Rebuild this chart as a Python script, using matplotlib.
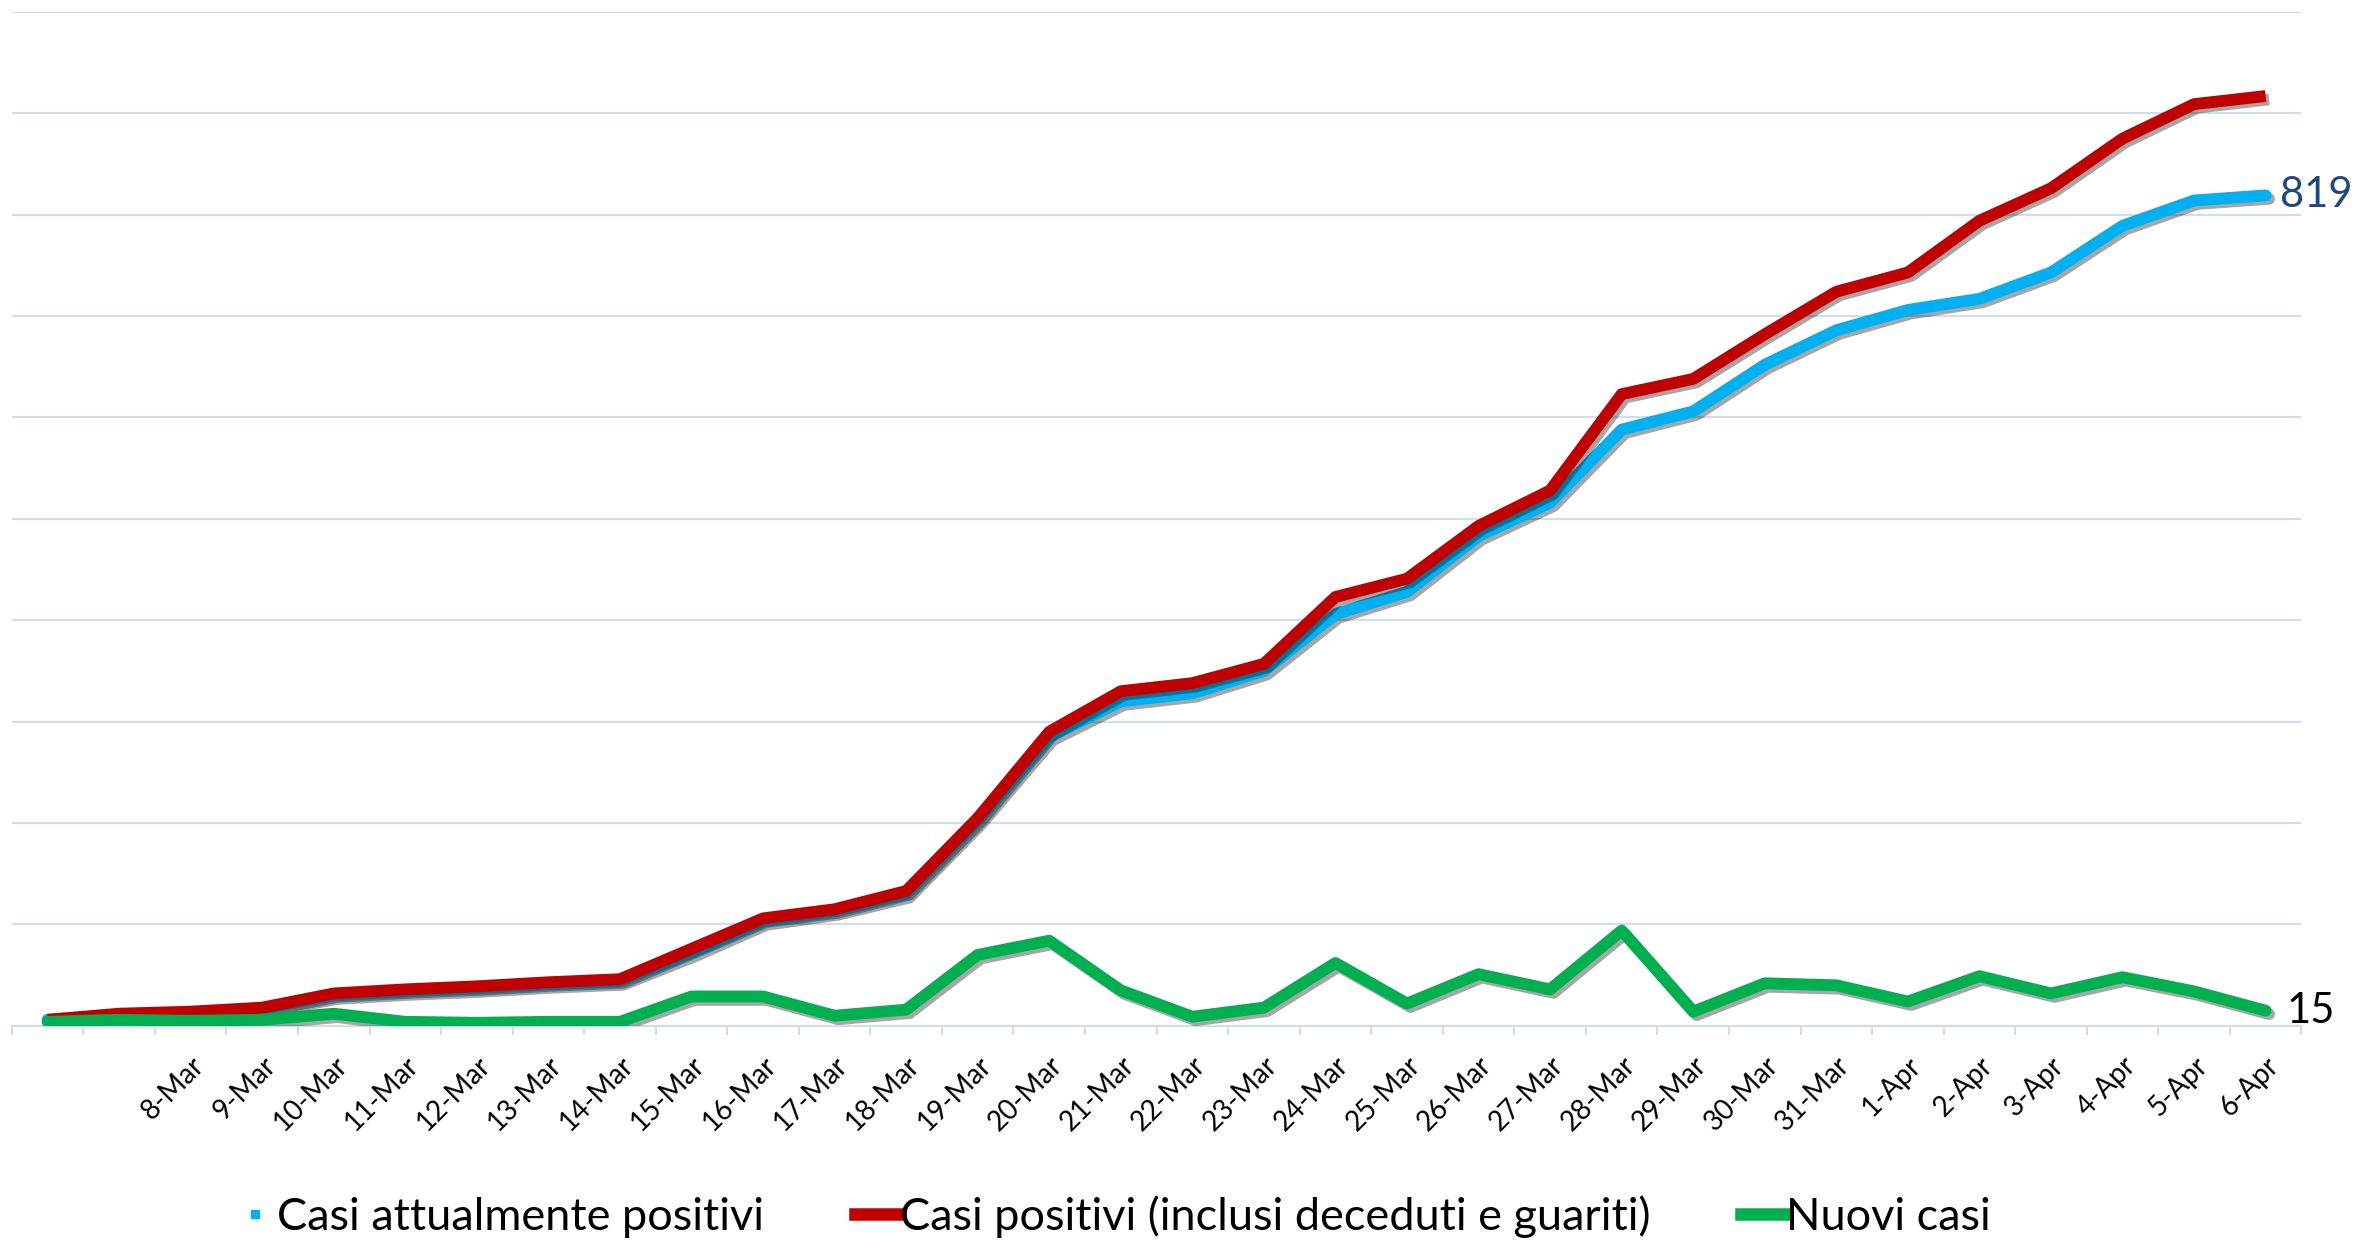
import numpy as np
import matplotlib
matplotlib.use('Agg')
import matplotlib.pyplot as plt
import matplotlib.patheffects as pe
from matplotlib.lines import Line2D
from matplotlib.ticker import MultipleLocator

plt.rcParams['font.family'] = ['Lato', 'DejaVu Sans']

# first two days have no label in the original chart
dates = ['', '', '8-Mar', '9-Mar', '10-Mar', '11-Mar', '12-Mar', '13-Mar', '14-Mar',
         '15-Mar', '16-Mar', '17-Mar', '18-Mar', '19-Mar', '20-Mar', '21-Mar',
         '22-Mar', '23-Mar', '24-Mar', '25-Mar', '26-Mar', '27-Mar', '28-Mar',
         '29-Mar', '30-Mar', '31-Mar', '1-Apr', '2-Apr', '3-Apr', '4-Apr',
         '5-Apr', '6-Apr']

attualmente_positivi = [6, 11, 13, 17, 30, 34, 37, 41, 44, 72, 103, 113, 130, 202, 285, 320,
                        328, 350, 406, 428, 483, 516, 588, 606, 652, 686, 706, 717, 743,
                        789, 814, 819]
positivi_totali = [6, 12, 14, 18, 32, 36, 39, 43, 46, 76, 106, 115, 133, 205, 290, 330,
                   338, 357, 423, 441, 493, 528, 623, 638, 682, 724, 743, 794, 826,
                   875, 909, 917]
nuovi_casi = [4, 6, 5, 6, 12, 4, 3, 4, 4, 29, 29, 10, 16, 70, 84, 35,
              9, 18, 62, 22, 51, 36, 94, 14, 42, 40, 24, 49, 32, 48, 34, 15]

legend_labels = ['Casi attualmente positivi',
                 'Casi positivi (inclusi deceduti e guariti)',
                 'Nuovi casi']

blue = '#00B0F0'
red = '#C00000'
green = '#00B050'
grid_col = '#D0DCEF'

x = np.arange(len(dates))

fig = plt.figure(figsize=(23.58, 12.48), dpi=100)
ax = fig.add_axes([0.005, 0.178, 0.971, 0.8125])

shadow = [pe.SimpleLineShadow(offset=(2.5, -2.5), shadow_color='black', alpha=0.35),
          pe.Normal()]

ax.plot(x, attualmente_positivi, color=blue, lw=8.5, solid_capstyle='round',
        path_effects=shadow, zorder=3)
ax.plot(x, positivi_totali, color=red, lw=8.5, solid_capstyle='butt',
        path_effects=shadow, zorder=4)
ax.plot(x, nuovi_casi, color=green, lw=8.5, solid_capstyle='round',
        path_effects=shadow, zorder=5)

ax.set_xlim(-0.5, len(dates) - 0.5)
ax.set_ylim(0, 1000)
ax.yaxis.set_major_locator(MultipleLocator(100))
ax.grid(axis='y', color=grid_col, lw=1.5)
ax.set_axisbelow(True)
ax.tick_params(axis='y', left=False, labelleft=False)
for s in ['left', 'right', 'top']:
    ax.spines[s].set_visible(False)
ax.spines['bottom'].set_color(grid_col)
ax.spines['bottom'].set_linewidth(1.5)

ax.set_xticks(x)
ax.set_xticklabels(dates, rotation=45, ha='right', va='top',
                   rotation_mode='anchor', fontsize=20)
ax.tick_params(axis='x', which='major', length=0, pad=19)
ax.set_xticks(np.arange(-0.5, len(dates)), minor=True)
ax.tick_params(axis='x', which='minor', length=6.5, width=1.5, color=grid_col)

# end-of-line value labels
ax.annotate(str(attualmente_positivi[-1]), xy=(x[-1], attualmente_positivi[-1]),
            xytext=(10, 0), textcoords='offset points', va='center', ha='left',
            fontsize=30, color='#1F497D', annotation_clip=False)
ax.annotate(str(nuovi_casi[-1]), xy=(x[-1], nuovi_casi[-1]),
            xytext=(15, 0), textcoords='offset points', va='center', ha='left',
            fontsize=30, color='black', annotation_clip=False)

handles = [Line2D([], [], color=blue, marker='s', markersize=6, ls='none'),
           Line2D([], [], color=red, lw=9),
           Line2D([], [], color=green, lw=9)]
fig.legend(handles, legend_labels, loc='center', bbox_to_anchor=(0.4713, 0.025),
           ncol=3, frameon=False, fontsize=32.5, handlelength=1.0,
           handletextpad=0.0, columnspacing=2.0)

fig.savefig('out.png', dpi=100)
